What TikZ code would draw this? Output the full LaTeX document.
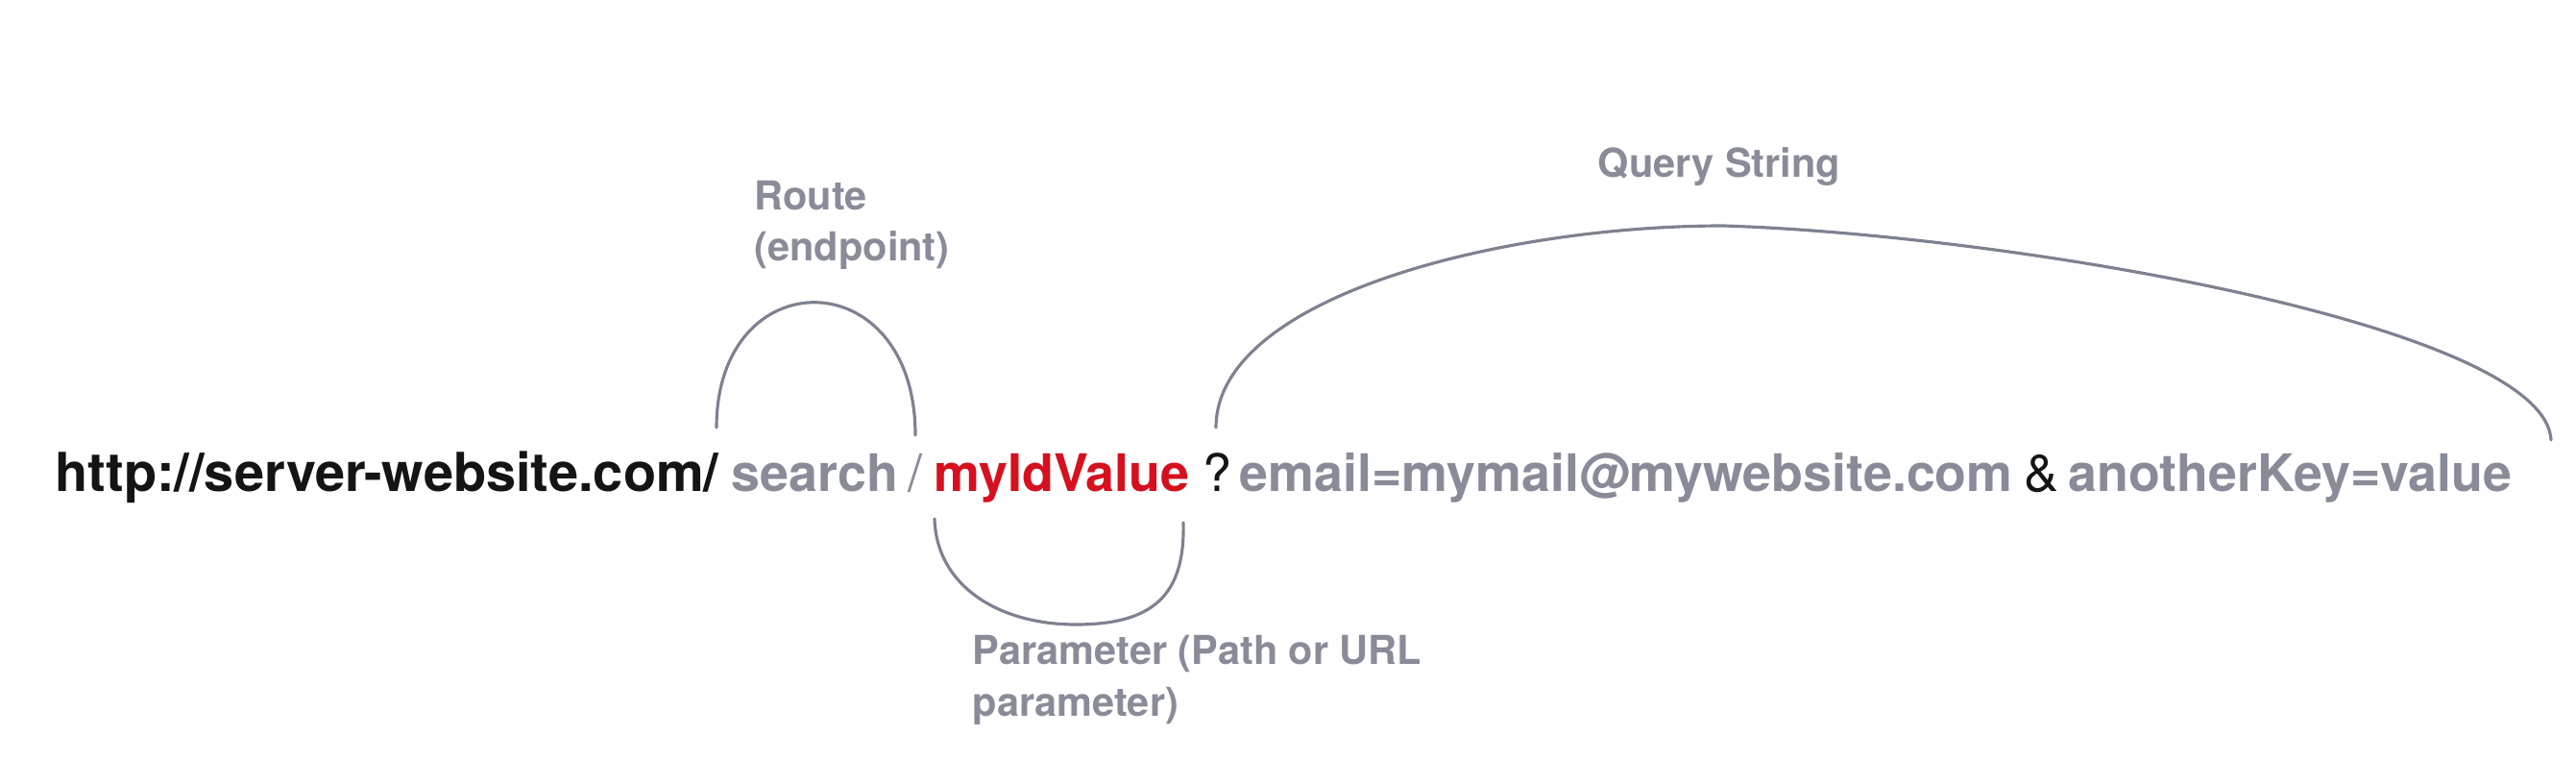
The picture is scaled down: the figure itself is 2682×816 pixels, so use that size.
\documentclass[tikz,border=0pt]{standalone}
\usepackage{fontspec}
\setmainfont{TeX Gyre Heros}
\usepackage{xcolor}
\definecolor{myred}{RGB}{214,16,30}
\definecolor{mygray}{RGB}{137,140,152}
\definecolor{mylinegray}{RGB}{126,129,143}
\definecolor{myblack}{RGB}{20,20,20}
\usetikzlibrary{calc}

\begin{document}
\begin{tikzpicture}[x=0.01cm,y=-0.01cm,line cap=round]
	\tikzstyle{part}=[anchor=base west,inner sep=0pt,font=\fontsize{15.3}{18}\selectfont\bfseries];
	\tikzstyle{sep}=[anchor=base west,inner sep=0pt,font=\fontsize{15.3}{18}\selectfont];
	\tikzstyle{lbl}=[anchor=base west,inner sep=0pt,align=left,text=mygray,font=\fontsize{11.8}{15.2}\selectfont\bfseries];
	\tikzstyle{brace}=[draw=mylinegray,line width=0.9pt];
	\useasboundingbox (0,0) rectangle (2682,816);
	% the url, piece by piece
	\node[part,text=myblack,font=\fontsize{15.9}{18}\selectfont\bfseries] (url) at (57,512) {http://server-website.com/};
	\node[part,text=mygray]  (route)    at (761,512)  {search};
	\node[sep,text=mygray]   (slash)    at (945,512)  {/};
	\node[part,text=myred]   (param)    at (972,512)  {myIdValue};
	\node[sep,text=myblack]  (qmark)    at (1252,512) {?};
	\node[part,text=mygray]  (email)    at (1290,512) {email=mymail@mywebsite.com};
	\node[sep,text=myblack]  (amp)      at (2107,512) {\&};
	\node[part,text=mygray]  (otherkey) at (2153,512) {anotherKey=value};
	% labels (base = last line)
	\node[lbl] (routelbl) at (785,272)  {Route\\(endpoint)};
	\node[lbl] (paramlbl) at (1012,745) {Parameter (Path or URL\\parameter)};
	\node[lbl] (querylbl) at (1663,185) {Query String};
	% end points of the arcs
	\coordinate (rl) at (746,445);
	\coordinate (rr) at (953,453);
	\coordinate (pl) at (973,540);
	\coordinate (pb) at (1120,650);
	\coordinate (pr) at (1232,544);
	\coordinate (ql) at (1266,445);
	\coordinate (qt) at (1795,235);
	\coordinate (qr) at (2656,458);
	\draw[brace] (rl) .. controls (746,270) and (953,270) .. (rr);
	\draw[brace] (pl) .. controls (975,610) and (1040,650) .. (pb) .. controls (1200,650) and (1234,620) .. (pr);
	\draw[brace] (ql) .. controls (1266,310) and (1560,235) .. (qt) .. controls (2100,245) and (2650,340) .. (qr);
\end{tikzpicture}
\end{document}
